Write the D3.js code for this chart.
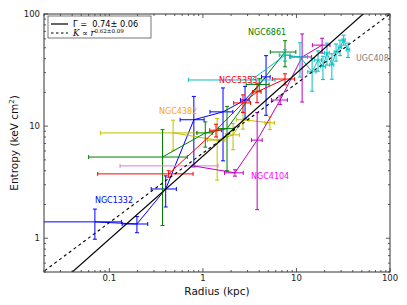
<!DOCTYPE html>
<html>
<head>
<meta charset="utf-8">
<script src="https://cdn.jsdelivr.net/npm/d3@7"></script>
<style>
  body { margin: 0; background: #fff; }
  svg { font-family: "DejaVu Sans", sans-serif; }
</style>
</head>
<body>
<svg id="chart" width="407" height="305"></svg>
<script>
// rows: [radius kpc, radius err, entropy keV cm^2, entropy err]
const ngc1332 = [
  [0.07, 0.065, 1.40, 0.42],
  [0.197, 0.06, 1.34, 0.22],
  [0.40, 0.12, 2.75, 0.85],
  [0.80, 0.23, 11.4, 7.0],
  [1.64, 0.45, 13.4, 8.5],
  [2.82, 0.30, 17.1, 5.5],
  [4.73, 0.50, 27.5, 15]
];
const ngc4382 = [
  [0.48, 0.40, 8.7, 2.6],
  [1.42, 0.30, 7.5, 4.2],
  [2.10, 0.35, 8.35, 2.2],
  [2.68, 0.40, 11.4, 2.0],
  [5.20, 0.60, 10.7, 1.4]
];
const ngc6861 = [
  [0.37, 0.31, 5.3, 4.0],
  [1.06, 0.20, 8.7, 2.2],
  [1.81, 0.35, 9.5, 5.5],
  [4.00, 1.10, 23.5, 3.0],
  [7.55, 2.30, 45.8, 12]
];
const ngc5353 = [
  [0.43, 0.355, 3.75, 0.25],
  [1.38, 0.20, 9.2, 1.2],
  [2.68, 0.55, 16.1, 2.9],
  [3.79, 0.40, 20.2, 4.0],
  [7.55, 2.00, 26.3, 3.0]
];
const ngc4104Inner = [
  [0.79, 0.66, 4.42, 0.15]
];
const ngc4104 = [
  [0.79, 0, 4.42, 0],
  [2.20, 0.50, 3.83, 0.25],
  [3.80, 0.50, 7.5, 5.7],
  [6.70, 1.30, 17.1, 1.5],
  [11.5, 3.00, 41.4, 25],
  [18.8, 4.00, 52.8, 8]
];
const ugc408 = [
  [3.3, 2.6, 25.8, 2.0],
  [7.55, 1.0, 43, 5],
  [10.9, 2.2, 41.4, 14],
  [14.7, 1.5, 30.5, 10],
  [17.0, 1.5, 38.9, 8],
  [19.2, 1.2, 34, 8],
  [21.2, 1.2, 45, 10],
  [23.9, 1.2, 35.2, 9],
  [26.5, 1.2, 46, 8],
  [29.2, 1.2, 50.5, 8],
  [32.0, 1.2, 58.7, 6],
  [35.6, 1.5, 48, 7]
];

const galaxies = [
  { name: "NGC1332", rows: ngc1332, color: "#0000ff" },
  { name: "NGC4382", rows: ngc4382, color: "#bfbf00" },
  { name: "NGC6861", rows: ngc6861, color: "#008000" },
  { name: "NGC5353", rows: ngc5353, color: "#ff0000" },
  { name: "NGC4104 inner", rows: ngc4104Inner, color: "#e07be0" },
  { name: "NGC4104", rows: ngc4104, color: "#bf00bf" },
  { name: "UGC408", rows: ugc408, color: "#00bfbf" }
];

// labels: [text, r, K, colour]
const labels = [
  ["NGC6861", 3.03, 67.9, "#008000"],
  ["NGC5353", 1.49, 25.5, "#ff0000"],
  ["NGC4382", 0.34, 13.4, "#ffa500"],
  ["NGC4104", 3.27, 3.52, "#ff00ff"],
  ["NGC1332", 0.07, 2.15, "#0000ff"],
  ["UGC408", 43.2, 39.8, "#808080"]
];

// power-law fits: K = A r^gamma
const fitSolid = { A: 5.4, gamma: 0.74 };
const fitDashed = { A: 5.75, gamma: 0.62 };

const xTicks = [0.1, 1, 10, 100];
const yTicks = [1, 10, 100];

const margin = { left: 44, right: 17, top: 14, bottom: 33 };
const W = 407, H = 305;
const svg = d3.select("#chart");

const x = d3.scaleLog().domain([0.02, 100]).range([margin.left, W - margin.right]);
const y = d3.scaleLog().domain([0.5, 100]).range([H - margin.bottom, margin.top]);

svg.append("defs").append("clipPath").attr("id", "clip")
  .append("rect")
  .attr("x", x.range()[0]).attr("y", y.range()[1])
  .attr("width", x.range()[1] - x.range()[0])
  .attr("height", y.range()[0] - y.range()[1]);

const plot = svg.append("g").attr("clip-path", "url(#clip)");
const cap = 2;

galaxies.forEach(g => {
  const gg = plot.append("g").attr("stroke", g.color).attr("fill", "none").attr("stroke-width", 1);
  const line = d3.line().x(d => x(d[0])).y(d => y(d[2]));
  if (g.rows.length > 1) gg.append("path").attr("d", line(g.rows));
  g.rows.forEach(d => {
    const cx = x(d[0]), cy = y(d[2]);
    if (d[1] > 0) {
      const x0 = x(Math.max(d[0] - d[1], 0.005)), x1 = x(d[0] + d[1]);
      gg.append("line").attr("x1", x0).attr("x2", x1).attr("y1", cy).attr("y2", cy);
      [x0, x1].forEach(px => gg.append("line").attr("x1", px).attr("x2", px).attr("y1", cy - cap).attr("y2", cy + cap));
    }
    if (d[3] > 0) {
      const y0 = y(Math.max(d[2] - d[3], 0.1)), y1 = y(d[2] + d[3]);
      gg.append("line").attr("x1", cx).attr("x2", cx).attr("y1", y0).attr("y2", y1);
      [y0, y1].forEach(py => gg.append("line").attr("x1", cx - cap).attr("x2", cx + cap).attr("y1", py).attr("y2", py));
    }
  });
});

// fit lines
const rr = [0.01, 200];
plot.append("line")
  .attr("x1", x(rr[0])).attr("y1", y(fitDashed.A * Math.pow(rr[0], fitDashed.gamma)))
  .attr("x2", x(rr[1])).attr("y2", y(fitDashed.A * Math.pow(rr[1], fitDashed.gamma)))
  .attr("stroke", "#000").attr("stroke-width", 1.1).attr("stroke-dasharray", "3,3");
plot.append("line")
  .attr("x1", x(rr[0])).attr("y1", y(fitSolid.A * Math.pow(rr[0], fitSolid.gamma)))
  .attr("x2", x(rr[1])).attr("y2", y(fitSolid.A * Math.pow(rr[1], fitSolid.gamma)))
  .attr("stroke", "#000").attr("stroke-width", 1.2);

// galaxy labels
labels.forEach(l => {
  svg.append("text")
    .attr("x", x(l[1])).attr("y", y(l[2]))
    .attr("fill", l[3]).attr("font-size", 8)
    .attr("dominant-baseline", "middle")
    .text(l[0]);
});

// axes: ticks inside, on all sides
const [xl, xr] = x.range(), [yb, yt] = y.range();
const axisG = svg.append("g").attr("stroke", "#333").attr("stroke-width", 0.8);

function minors(domain) {
  const out = [];
  for (let e = -3; e <= 3; e++) {
    for (let m = 1; m < 10; m++) {
      const v = m * Math.pow(10, e);
      if (v >= domain[0] && v <= domain[1]) out.push({ v, major: m === 1 });
    }
  }
  return out;
}

minors(x.domain()).forEach(t => {
  const px = x(t.v), len = t.major ? 4 : 2;
  axisG.append("line").attr("x1", px).attr("x2", px).attr("y1", yb).attr("y2", yb - len);
  axisG.append("line").attr("x1", px).attr("x2", px).attr("y1", yt).attr("y2", yt + len);
});
minors(y.domain()).forEach(t => {
  const py = y(t.v), len = t.major ? 4 : 2;
  axisG.append("line").attr("x1", xl).attr("x2", xl + len).attr("y1", py).attr("y2", py);
  axisG.append("line").attr("x1", xr).attr("x2", xr - len).attr("y1", py).attr("y2", py);
});

svg.append("rect")
  .attr("x", xl).attr("y", yt).attr("width", xr - xl).attr("height", yb - yt)
  .attr("fill", "none").attr("stroke", "#333").attr("stroke-width", 1);

const fmt = v => v < 1 ? String(v) : d3.format("d")(v);
svg.append("g").selectAll("text").data(xTicks).join("text")
  .attr("x", d => x(d)).attr("y", yb + 9)
  .attr("text-anchor", "middle").attr("font-size", 8.5).attr("fill", "#222")
  .text(fmt);
svg.append("g").selectAll("text").data(yTicks).join("text")
  .attr("x", xl - 4).attr("y", d => y(d) + 3)
  .attr("text-anchor", "end").attr("font-size", 8.5).attr("fill", "#222")
  .text(fmt);

svg.append("text")
  .attr("x", (xl + xr) / 2).attr("y", yb + 23)
  .attr("text-anchor", "middle").attr("font-size", 10.5).attr("fill", "#111")
  .text("Radius (kpc)");

const yLab = svg.append("text")
  .attr("transform", `translate(18,${(yt + yb) / 2}) rotate(-90)`)
  .attr("text-anchor", "middle").attr("font-size", 10.5).attr("fill", "#111");
yLab.append("tspan").text("Entropy (keV cm");
yLab.append("tspan").attr("font-size", 7).attr("dy", -4).text("2");
yLab.append("tspan").attr("dy", 4).text(")");

// legend
const leg = svg.append("g");
leg.append("rect").attr("x", 48).attr("y", 16).attr("width", 103).attr("height", 22)
  .attr("fill", "#fff").attr("stroke", "#555").attr("stroke-width", 0.8);
leg.append("line").attr("x1", 51).attr("x2", 68).attr("y1", 24).attr("y2", 24)
  .attr("stroke", "#000").attr("stroke-width", 1.2);
leg.append("line").attr("x1", 51).attr("x2", 68).attr("y1", 33).attr("y2", 33)
  .attr("stroke", "#000").attr("stroke-width", 1.1).attr("stroke-dasharray", "2.5,2.5");
leg.append("text").attr("x", 73).attr("y", 27).attr("font-size", 8.2).attr("fill", "#000")
  .attr("xml:space", "preserve")
  .text("\u0393 =  " + fitSolid.gamma.toFixed(2) + "\u00b1 0.06");
const l2 = leg.append("text").attr("x", 73).attr("y", 35.5).attr("font-size", 8.5)
  .attr("font-family", "DejaVu Serif, serif").attr("fill", "#000");
l2.append("tspan").attr("font-style", "italic").text("K");
l2.append("tspan").text(" \u221d ");
l2.append("tspan").attr("font-style", "italic").text("r");
l2.append("tspan").attr("font-size", 5.5).attr("dy", -3).text(fitDashed.gamma.toFixed(2) + "\u00b10.09");
</script>
</body>
</html>
